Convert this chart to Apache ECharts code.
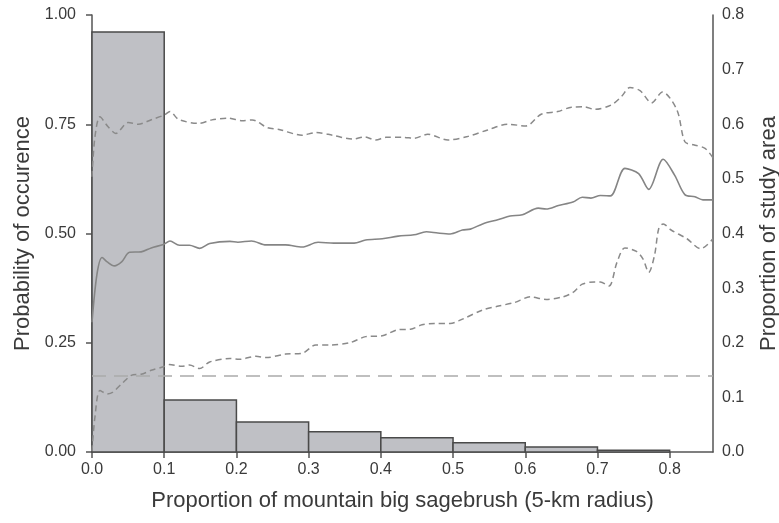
<!DOCTYPE html>
<html>
<head>
<meta charset="utf-8">
<script src="https://cdn.jsdelivr.net/npm/echarts@6/dist/echarts.min.js"></script>
<style>
  body { margin: 0; background: #fff; }
  #chart { width: 779px; height: 523px; }
</style>
</head>
<body>
<div id="chart"></div>
<script>
// histogram of study area (right axis)
const binStart = [0.0, 0.1, 0.2, 0.3, 0.4, 0.5, 0.6, 0.7];
const binEnd = [0.1, 0.2, 0.3, 0.4, 0.5, 0.6, 0.7, 0.8];
const binArea = [0.769, 0.095, 0.055, 0.037, 0.026, 0.017, 0.009, 0.003];

// upper confidence band
const upperX = [0, 0.004, 0.011, 0.022, 0.033, 0.050, 0.064, 0.083, 0.100, 0.108, 0.120, 0.148, 0.166, 0.189, 0.208, 0.222, 0.243, 0.259, 0.291, 0.310, 0.333, 0.361, 0.377, 0.393, 0.407, 0.432, 0.446, 0.465, 0.493, 0.520, 0.548, 0.576, 0.601, 0.622, 0.645, 0.664, 0.682, 0.696, 0.719, 0.733, 0.745, 0.759, 0.775, 0.790, 0.810, 0.821, 0.833, 0.849, 0.86];
const upperY = [0.63, 0.72, 0.767, 0.745, 0.729, 0.754, 0.750, 0.761, 0.771, 0.779, 0.761, 0.752, 0.760, 0.764, 0.758, 0.760, 0.742, 0.738, 0.725, 0.731, 0.725, 0.716, 0.721, 0.714, 0.720, 0.720, 0.718, 0.727, 0.714, 0.722, 0.737, 0.750, 0.746, 0.773, 0.779, 0.789, 0.790, 0.784, 0.794, 0.813, 0.834, 0.827, 0.799, 0.824, 0.783, 0.710, 0.703, 0.695, 0.673];

// mean probability
const meanX = [0, 0.007, 0.014, 0.021, 0.031, 0.041, 0.052, 0.068, 0.082, 0.099, 0.108, 0.121, 0.135, 0.149, 0.163, 0.191, 0.202, 0.221, 0.241, 0.268, 0.291, 0.313, 0.335, 0.363, 0.379, 0.402, 0.424, 0.446, 0.463, 0.479, 0.496, 0.513, 0.524, 0.541, 0.563, 0.579, 0.596, 0.618, 0.629, 0.646, 0.666, 0.679, 0.691, 0.704, 0.718, 0.738, 0.757, 0.771, 0.791, 0.807, 0.821, 0.835, 0.846, 0.86];
const meanY = [0.297, 0.408, 0.445, 0.435, 0.426, 0.435, 0.457, 0.458, 0.467, 0.475, 0.483, 0.473, 0.473, 0.466, 0.477, 0.482, 0.480, 0.483, 0.474, 0.474, 0.469, 0.480, 0.478, 0.478, 0.485, 0.488, 0.494, 0.497, 0.504, 0.501, 0.499, 0.508, 0.510, 0.522, 0.532, 0.540, 0.543, 0.558, 0.556, 0.564, 0.572, 0.583, 0.581, 0.587, 0.586, 0.649, 0.637, 0.601, 0.670, 0.633, 0.589, 0.584, 0.577, 0.577];

// lower confidence band
const lowerX = [0, 0.004, 0.011, 0.021, 0.029, 0.041, 0.057, 0.068, 0.082, 0.099, 0.107, 0.124, 0.135, 0.149, 0.163, 0.191, 0.204, 0.227, 0.241, 0.268, 0.291, 0.310, 0.329, 0.357, 0.379, 0.402, 0.424, 0.441, 0.457, 0.474, 0.496, 0.513, 0.541, 0.563, 0.585, 0.607, 0.629, 0.652, 0.666, 0.679, 0.696, 0.704, 0.716, 0.727, 0.738, 0.754, 0.763, 0.771, 0.779, 0.785, 0.791, 0.802, 0.824, 0.843, 0.86];
const lowerY = [0.002, 0.079, 0.141, 0.133, 0.137, 0.156, 0.177, 0.178, 0.187, 0.195, 0.200, 0.196, 0.199, 0.191, 0.206, 0.214, 0.212, 0.219, 0.216, 0.224, 0.226, 0.245, 0.245, 0.250, 0.264, 0.266, 0.280, 0.281, 0.291, 0.294, 0.294, 0.304, 0.325, 0.334, 0.342, 0.355, 0.349, 0.355, 0.365, 0.384, 0.389, 0.389, 0.380, 0.434, 0.467, 0.459, 0.442, 0.411, 0.450, 0.512, 0.522, 0.508, 0.488, 0.465, 0.488];

// reference (prevalence) line
const refX = [0, 0.86];
const refY = [0.174, 0.174];

const xTicks = [0, 0.1, 0.2, 0.3, 0.4, 0.5, 0.6, 0.7, 0.8];

function pairs(xs, ys) {
  return xs.map((x, i) => [x, ys[i]]);
}

const histData = binStart.map((s, i) => [s, binEnd[i], binArea[i]]);

const font = "'Liberation Sans', Arial, sans-serif";
const textColor = "#3a3a3a";
const axisColor = "#555";

var myChart = echarts.init(document.getElementById("chart"));

var option = {
  animation: false,
  grid: {
    left: 92,
    right: 66,
    top: 15,
    bottom: 71,
    outerBoundsMode: "none",
    containLabel: false,
  },
  xAxis: {
    type: "value",
    min: 0,
    max: 0.86,
    interval: 0.1,
    name: "Proportion of mountain big sagebrush (5-km radius)",
    nameLocation: "middle",
    nameGap: 38,
    nameTextStyle: { fontSize: 22, color: textColor, fontFamily: font },
    axisLine: { lineStyle: { color: axisColor, width: 1.5 } },
    axisTick: { length: 6, customValues: xTicks, lineStyle: { color: axisColor, width: 1.5 } },
    axisLabel: {
      customValues: xTicks,
      fontSize: 16,
      color: textColor,
      fontFamily: font,
      margin: 10,
      formatter: (v) => v.toFixed(1),
    },
    splitLine: { show: false },
  },
  yAxis: [
    {
      type: "value",
      min: 0,
      max: 1,
      interval: 0.25,
      position: "left",
      name: "Probability of occurence",
      nameLocation: "middle",
      nameRotate: 90,
      nameGap: 57,
      nameTextStyle: { fontSize: 22, color: textColor, fontFamily: font },
      axisLine: { show: true, lineStyle: { color: axisColor, width: 1.5 } },
      axisTick: { show: true, length: 6, lineStyle: { color: axisColor, width: 1.5 } },
      axisLabel: {
        fontSize: 16,
        color: textColor,
        fontFamily: font,
        margin: 16,
        formatter: (v) => v.toFixed(2),
      },
      splitLine: { show: false },
    },
    {
      type: "value",
      min: 0,
      max: 0.8,
      interval: 0.1,
      position: "right",
      name: "Proportion of study area",
      nameLocation: "middle",
      nameRotate: 90,
      nameGap: 45,
      nameTextStyle: { fontSize: 22, color: textColor, fontFamily: font },
      axisLine: { show: true, lineStyle: { color: axisColor, width: 1.5 } },
      axisTick: { show: false },
      axisLabel: {
        fontSize: 16,
        color: textColor,
        fontFamily: font,
        margin: 9,
        formatter: (v) => v.toFixed(1),
      },
      splitLine: { show: false },
    },
  ],
  series: [
    {
      type: "custom",
      yAxisIndex: 1,
      z: 1,
      data: histData,
      encode: { x: [0, 1], y: 2 },
      renderItem: function (params, api) {
        const p0 = api.coord([api.value(0), api.value(2)]);
        const p1 = api.coord([api.value(1), 0]);
        return {
          type: "rect",
          shape: { x: p0[0], y: p0[1], width: p1[0] - p0[0], height: p1[1] - p0[1] },
          style: { fill: "#bfc0c5", stroke: "#4a4a4a", lineWidth: 1.5 },
        };
      },
    },
    {
      type: "line",
      z: 3,
      data: pairs(refX, refY),
      symbol: "none",
      lineStyle: { color: "#aaaaaa", width: 1.5, type: [14, 8] },
    },
    {
      type: "line",
      z: 4,
      data: pairs(upperX, upperY),
      symbol: "none",
      smooth: 0.3,
      lineStyle: { color: "#8a8a8a", width: 1.5, type: [6, 4] },
    },
    {
      type: "line",
      z: 4,
      data: pairs(meanX, meanY),
      symbol: "none",
      smooth: 0.3,
      lineStyle: { color: "#858585", width: 1.6 },
    },
    {
      type: "line",
      z: 4,
      data: pairs(lowerX, lowerY),
      symbol: "none",
      smooth: 0.3,
      lineStyle: { color: "#8a8a8a", width: 1.5, type: [6, 4] },
    },
  ],
};

myChart.setOption(option);
</script>
</body>
</html>
